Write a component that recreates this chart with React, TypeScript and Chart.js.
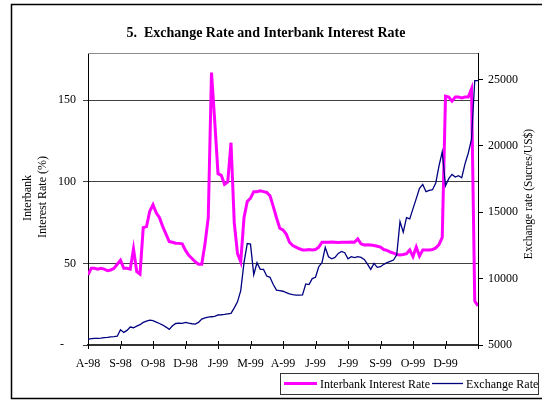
import { useEffect, useRef } from 'react';
import { Chart, registerables } from 'chart.js';

Chart.register(...registerables);

// Month tick labels (one every 10 observations)
const tickLabels = ['A-98', 'S-98', 'O-98', 'D-98', 'J-99', 'M-99', 'A-99', 'J-99', 'J-99', 'S-99', 'O-99', 'D-99'];
const POINTS_PER_TICK = 10;
const leftTicks = [0, 50, 100, 150];
const rightTicks = [5000, 10000, 15000, 20000, 25000];

// Interbank interest rate (%), left axis
const interbankRate = [
  43, 47, 47, 46.5, 47, 46.5, 45.6, 46, 47, 49.5,
  52, 47, 47, 46.5, 59, 45, 43.5, 72, 72.6, 82,
  86, 81, 78, 72.6, 68, 63.4, 63, 62.4, 62.3, 62,
  58, 55, 53, 51, 49.5, 49.5, 62, 78, 167, 137,
  105, 104, 98.5, 100, 124, 75, 56, 51, 78, 88,
  90, 94, 94, 94.5, 94, 93.5, 91.5, 85, 78, 71.6,
  70.5, 68, 63, 61, 60, 59, 58.3, 58.3, 58.5, 58.3,
  58.5, 60, 63, 63, 63, 63.2, 63, 62.8, 63, 63,
  63, 63.2, 63, 65, 62, 61.3, 61.5, 61.3, 61, 60.5,
  60, 58.5, 58, 57, 56.3, 55.5, 55.2, 55.5, 56, 58.3,
  54.2, 60, 54.5, 58.3, 58.3, 58.3, 58.5, 59.5, 61.5, 66,
  152.5, 152, 149.5, 152, 152, 151.5, 152, 152, 157, 27,
  24,
];

// Exchange rate (Sucres/US$), right axis
const exchangeRate = [
  5430, 5480, 5504, 5504, 5520, 5560, 5580, 5610, 5630, 5660,
  6150, 5950, 6100, 6350, 6300, 6420, 6530, 6700, 6800, 6880,
  6830, 6730, 6620, 6504, 6350, 6180, 6450, 6620, 6650, 6630,
  6700, 6640, 6600, 6580, 6700, 6950, 7050, 7100, 7130, 7150,
  7260, 7280, 7310, 7350, 7384, 7800, 8250, 9100, 11200, 12646,
  12600, 10300, 11200, 10700, 10700, 10200, 10100, 9560, 9135, 9100,
  9050, 8950, 8850, 8800, 8760, 8760, 8770, 9600, 9550, 10000,
  10100, 10900, 11200, 12350, 11650, 11500, 11600, 11900, 12050, 11950,
  11500, 11650, 11580, 11650, 11600, 11450, 11100, 10700, 11150, 10850,
  10900, 11080, 11200, 11300, 11400, 11800, 14300, 13500, 14600, 14500,
  15278, 16030, 16800, 17100, 16550, 16650, 16700, 17200, 18500, 19550,
  17000, 17534, 17850, 17650, 17750, 17600, 18650, 19450, 20500, 24925,
  24925,
];

const FONT = "'Liberation Serif', 'Times New Roman', Times, serif";

export default function App() {
  const ref = useRef<HTMLCanvasElement>(null);

  useEffect(() => {
    if (!ref.current) return;
    Chart.defaults.font.family = FONT;
    Chart.defaults.font.size = 12;
    Chart.defaults.color = '#000';

    const decor = {
      id: 'decor',
      beforeDraw(chart: any) {
        const ctx = chart.ctx;
        ctx.save();
        ctx.fillStyle = '#fff';
        ctx.fillRect(0, 0, chart.width, chart.height);
        ctx.restore();
      },
      afterDraw(chart: any) {
        const ctx = chart.ctx;
        const a = chart.chartArea;
        ctx.save();
        // top border of plot area
        ctx.strokeStyle = '#8c8c8c';
        ctx.lineWidth = 1;
        ctx.beginPath();
        ctx.moveTo(a.left, a.top + 0.5);
        ctx.lineTo(a.right, a.top + 0.5);
        ctx.stroke();
        // inner half of the crossing x ticks
        const xs = chart.scales.x;
        ctx.strokeStyle = '#000';
        xs.ticks.forEach((t: any) => {
          const px = Math.round(xs.getPixelForValue(t.value)) + 0.5;
          ctx.beginPath();
          ctx.moveTo(px, a.bottom - 4);
          ctx.lineTo(px, a.bottom);
          ctx.stroke();
        });
        // outer frame
        ctx.strokeStyle = '#000';
        ctx.lineWidth = 1.5;
        ctx.beginPath();
        ctx.moveTo(560, 4.5);
        ctx.lineTo(11.5, 4.5);
        ctx.lineTo(11.5, 398.5);
        ctx.lineTo(560, 398.5);
        ctx.stroke();
        // title
        ctx.fillStyle = '#000';
        ctx.font = `bold 14px ${FONT}`;
        ctx.textAlign = 'center';
        ctx.textBaseline = 'alphabetic';
        ctx.fillText('5.  Exchange Rate and Interbank Interest Rate', 266, 37);
        // axis titles
        ctx.font = `12px ${FONT}`;
        ctx.textBaseline = 'middle';
        ctx.save();
        ctx.translate(28, 198);
        ctx.rotate(-Math.PI / 2);
        ctx.fillText('Interbank', 0, 0);
        ctx.restore();
        ctx.save();
        ctx.translate(43, 197);
        ctx.rotate(-Math.PI / 2);
        ctx.fillText('Interest Rate (%)', 0, 0);
        ctx.restore();
        ctx.save();
        ctx.font = `11.5px ${FONT}`;
        ctx.translate(529, 194);
        ctx.rotate(-Math.PI / 2);
        ctx.fillText('Exchange rate (Sucres/US$)', 0, 0);
        ctx.restore();
        // legend
        ctx.lineWidth = 1;
        ctx.strokeStyle = '#333';
        ctx.strokeRect(280.5, 373.5, 258, 21);
        ctx.lineWidth = 3;
        ctx.strokeStyle = '#ff00ff';
        ctx.beginPath();
        ctx.moveTo(284, 383.5);
        ctx.lineTo(317, 383.5);
        ctx.stroke();
        ctx.lineWidth = 1.3;
        ctx.strokeStyle = '#000080';
        ctx.beginPath();
        ctx.moveTo(432, 383.5);
        ctx.lineTo(463, 383.5);
        ctx.stroke();
        ctx.textAlign = 'left';
        ctx.textBaseline = 'alphabetic';
        ctx.fillStyle = '#000';
        ctx.fillText('Interbank Interest Rate', 320, 388);
        ctx.fillText('Exchange Rate', 466, 388);
        ctx.restore();
      },
    };

    const pinkData = interbankRate.map((v, i) => ({ x: i, y: v }));
    const blueData = exchangeRate.map((v, i) => ({ x: i, y: v }));
    const maxX = tickLabels.length * POINTS_PER_TICK;
    const xTickValues: number[] = [];
    for (let k = 0; k <= tickLabels.length; k++) xTickValues.push(k * POINTS_PER_TICK);

    const chart = new Chart(ref.current, {
      type: 'line',
      data: {
        datasets: [
          {
            label: 'Interbank Interest Rate',
            data: pinkData,
            borderColor: '#ff00ff',
            borderWidth: 3,
            pointRadius: 0,
            tension: 0,
            yAxisID: 'y',
            order: 2,
          },
          {
            label: 'Exchange Rate',
            data: blueData,
            borderColor: '#000080',
            borderWidth: 1.3,
            pointRadius: 0,
            tension: 0,
            yAxisID: 'y1',
            order: 1,
          },
        ],
      },
      plugins: [decor],
      options: {
        animation: false,
        responsive: false,
        maintainAspectRatio: false,
        layout: { padding: { top: 53, left: 0, right: 0, bottom: 0 } },
        plugins: {
          legend: { display: false },
          title: { display: false },
          tooltip: { enabled: false },
        },
        scales: {
          x: {
            type: 'linear',
            min: 0,
            max: maxX,
            afterFit: (s: any) => { s.height = 55; },
            afterBuildTicks: (s: any) => { s.ticks = xTickValues.map((v) => ({ value: v })); },
            ticks: {
              autoSkip: false,
              maxRotation: 0,
              padding: 8,
              font: { size: 12, family: FONT },
              callback: (v: any) => {
                const k = Math.round(Number(v) / POINTS_PER_TICK);
                return tickLabels[k] ?? '';
              },
            },
            grid: { drawOnChartArea: false, drawTicks: true, tickLength: 4, color: '#000' },
            border: { display: true, color: '#333', width: 2 },
          },
          y: {
            position: 'left',
            min: 0,
            max: 179,
            afterFit: (s: any) => { s.width = 88; },
            afterBuildTicks: (s: any) => { s.ticks = leftTicks.map((v) => ({ value: v })); },
            ticks: {
              autoSkip: false,
              padding: 7,
              font: { size: 12, family: FONT },
              callback: (v: any) => (Number(v) === 0 ? '-    ' : String(v)),
            },
            grid: { color: '#404040', tickLength: 5, drawTicks: true },
            border: { display: true, color: '#000', width: 1 },
          },
          y1: {
            position: 'right',
            min: 5000,
            max: 27000,
            afterFit: (s: any) => { s.width = 64; },
            afterBuildTicks: (s: any) => { s.ticks = rightTicks.map((v) => ({ value: v })); },
            ticks: {
              autoSkip: false,
              padding: 5,
              font: { size: 12, family: FONT },
              callback: (v: any) => String(v),
            },
            grid: { drawOnChartArea: false, color: '#000', tickLength: 5 },
            border: { display: true, color: '#000', width: 1 },
          },
        },
      },
    });
    return () => chart.destroy();
  }, []);

  return (
    <div style={{ position: 'absolute', left: 0, top: 0, width: 542, height: 400 }}>
      <canvas ref={ref} width={542} height={400} />
    </div>
  );
}
